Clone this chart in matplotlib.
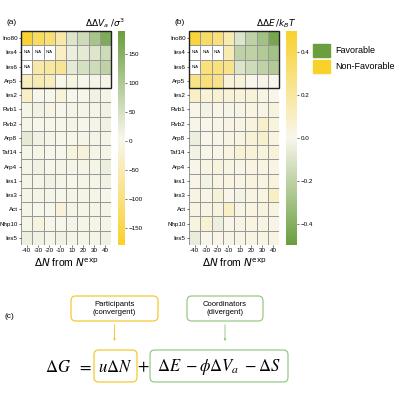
import numpy as np
import matplotlib
matplotlib.use("Agg")
import matplotlib.pyplot as plt
from matplotlib.colors import LinearSegmentedColormap
from matplotlib.patches import Rectangle, FancyBboxPatch, FancyArrowPatch

plt.rcParams['font.family'] = ['Liberation Sans', 'DejaVu Sans']

rows = ["Ino80","Ies4","Ies6","Arp5","Ies2","Rvb1","Rvb2","Arp8","Taf14","Arp4","Ies1","Ies3","Act","Nhp10","Ies5"]
cols = ["-40","-30","-20","-10","10","20","30","40"]
nan = np.nan
dVa = np.array([
 [-170,-130,-110,-60,40,60,110,160],
 [nan,nan,nan,-30,20,30,40,60],
 [nan,-60,-70,-80,30,50,60,80],
 [-40,-50,-40,5,-5,5,10,10],
 [-30,5,5,-15,5,5,15,10],
 [10,15,-5,5,10,10,10,15],
 [10,5,5,5,10,5,10,15],
 [30,15,10,5,5,10,10,10],
 [10,10,5,5,-10,-15,10,10],
 [10,15,5,10,10,10,10,20],
 [10,10,15,10,5,10,10,15],
 [10,10,10,5,10,10,10,5],
 [10,5,5,-15,10,10,10,10],
 [10,-10,5,5,10,10,10,10],
 [20,15,10,15,10,10,10,15],
])
dE = np.array([
 [0.45,0.35,0.30,0.15,-0.10,-0.20,-0.30,-0.45],
 [nan,nan,nan,0.15,-0.20,-0.20,-0.25,-0.30],
 [nan,0.30,0.30,0.25,-0.10,-0.15,-0.20,-0.25],
 [0.25,0.30,0.25,0.05,0.05,0.00,0.01,0.00],
 [0.10,0.05,0.07,0.05,0.05,0.05,0.02,0.00],
 [0.00,-0.02,0.01,-0.01,0.02,0.03,0.02,0.04],
 [0.01,0.00,0.01,0.02,0.02,0.04,0.08,0.04],
 [-0.04,0.00,0.01,0.02,0.03,0.06,0.08,0.03],
 [-0.02,0.00,0.01,0.03,0.07,0.05,0.04,0.05],
 [0.01,0.02,0.04,0.02,0.01,0.03,0.03,0.02],
 [0.01,-0.02,0.02,0.03,0.02,0.04,0.03,0.04],
 [0.03,0.01,0.06,0.00,-0.02,0.03,0.02,0.10],
 [0.02,0.02,0.04,0.10,0.02,0.03,0.04,0.03],
 [0.04,0.06,-0.04,0.01,0.02,0.03,0.02,0.01],
 [-0.05,0.00,0.01,-0.01,0.02,0.02,0.02,0.03],
])

YEL = "#f9d12b"; GRN = "#6a9e3f"
cmap_a = LinearSegmentedColormap.from_list("a", [YEL, "#f8f6ec", GRN])
cmap_b = LinearSegmentedColormap.from_list("b", [GRN, "#f8f6ec", YEL])

fig = plt.figure(figsize=(4,4), dpi=100)

def heat(rect, data, cmap, vmin, vmax, crect, ticks, title, lab):
    ax = fig.add_axes(rect)
    m = ax.pcolormesh(np.ma.masked_invalid(data), cmap=cmap, vmin=vmin, vmax=vmax,
                      edgecolors="#999999", linewidth=0.6)
    ax.set_facecolor("white")
    ax.set_xlim(0, 8); ax.set_ylim(15, 0)
    ax.set_xticks(np.arange(8)+0.5); ax.set_xticklabels(cols, fontsize=4.5)
    ax.set_yticks(np.arange(15)+0.5); ax.set_yticklabels(rows, fontsize=4.5)
    ax.tick_params(length=1.5, width=0.4, pad=1)
    for s in ax.spines.values(): s.set_visible(False)
    for r in range(15):
        for c in range(8):
            if np.isnan(data[r, c]):
                ax.text(c+0.5, r+0.5, "N/A", fontsize=3, ha="center", va="center")
    ax.add_patch(Rectangle((0,0), 8, 4, fill=False, edgecolor="#222222", lw=1.0, clip_on=False))
    ax.set_xlabel(r"$\Delta N$ from $N^{\mathrm{exp}}$", fontsize=7.5, labelpad=2)
    ax.text(-0.05, 1.025, lab, transform=ax.transAxes, fontsize=6, ha="right", va="bottom")
    cax = fig.add_axes(crect)
    cb = fig.colorbar(m, cax=cax, ticks=ticks)
    cb.outline.set_visible(False)
    cb.ax.tick_params(labelsize=4.5, length=1.5, width=0.4, pad=1)
    cax.set_title(title, fontsize=6.5, loc="right", pad=3)
    return ax

heat([0.0525, 0.3875, 0.225, 0.535], dVa, cmap_a, -180, 190,
     [0.295, 0.3875, 0.018, 0.535], [-150,-100,-50,0,50,100,150],
     r"$\Delta\Delta V_a\ /\sigma^3$", "(a)")
heat([0.4725, 0.3875, 0.225, 0.535], dE, cmap_b, -0.5, 0.5,
     [0.715, 0.3875, 0.027, 0.535], [-0.4,-0.2,0.0,0.2,0.4],
     r"$\Delta\Delta E\,/k_BT$", "(b)")

# legend
fig.patches.append(Rectangle((0.783, 0.858), 0.042, 0.032, transform=fig.transFigure, color=GRN))
fig.patches.append(Rectangle((0.783, 0.818), 0.042, 0.032, transform=fig.transFigure, color=YEL))
fig.text(0.837, 0.874, "Favorable", fontsize=6.5, va="center")
fig.text(0.837, 0.834, "Non-Favorable", fontsize=6.5, va="center")

# panel c
fig.text(0.012, 0.21, "(c)", fontsize=6, va="center")
def box(x0, y0, x1, y1, ec):
    fig.patches.append(FancyBboxPatch((x0/400, 1-y1/400), (x1-x0)/400, (y1-y0)/400,
                       boxstyle="round,pad=0,rounding_size=0.012",
                       transform=fig.transFigure, fill=False, ec=ec, lw=0.9))
YB = "#f6c832"; GB = "#98c98a"
box(71, 296, 158, 321, YB)
box(187, 296, 263, 321, GB)
box(94, 350, 137, 382, YB)
box(150, 350, 288, 382, GB)
fig.text(114.5/400, 1-309/400, "Participants\n(convergent)", fontsize=5.5, ha="center", va="center", linespacing=1.2)
fig.text(225/400, 1-309/400, "Coordinators\n(divergent)", fontsize=5.5, ha="center", va="center", linespacing=1.2)
for xx, c in [(114.5, YB), (225, GB)]:
    fig.add_artist(FancyArrowPatch((xx/400, 1-322/400), (xx/400, 1-344/400), transform=fig.transFigure,
                   arrowstyle="-|>", mutation_scale=3, color=c, lw=0.7))
ey = 1-367/400
mt = dict(fontsize=12, va="center", math_fontfamily="stix")
fig.text(45/400, ey, r"$\Delta G\ \ =$", **mt)
fig.text(115.5/400, ey, r"$u\Delta N$", ha="center", **mt)
fig.text(143/400, ey, r"$+$", ha="center", **mt)
fig.text(219/400, ey, r"$\Delta E\ -\phi\Delta V_a\ -\Delta S$", ha="center", **mt)

fig.savefig("out.png", dpi=100)
